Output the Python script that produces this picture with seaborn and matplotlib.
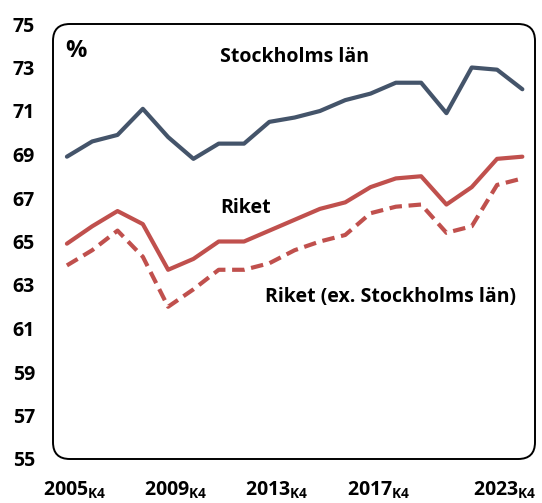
import matplotlib
matplotlib.use("Agg")
import matplotlib.pyplot as plt
from matplotlib.patches import FancyBboxPatch
import matplotlib.transforms as mtransforms
import seaborn as sns
import pandas as pd

# ---- data ----
quarters = [f"{y}K4" for y in range(2005, 2024)]
stockholm = [68.9, 69.6, 69.9, 71.1, 69.8, 68.8, 69.5, 69.5, 70.5, 70.7,
             71.0, 71.5, 71.8, 72.3, 72.3, 70.9, 73.0, 72.9, 72.0]
riket = [64.9, 65.7, 66.4, 65.8, 63.7, 64.2, 65.0, 65.0, 65.5, 66.0,
         66.5, 66.8, 67.5, 67.9, 68.0, 66.7, 67.5, 68.8, 68.9]
riket_ex = [63.9, 64.6, 65.5, 64.3, 62.0, 62.8, 63.7, 63.7, 64.0, 64.6,
            65.0, 65.3, 66.3, 66.6, 66.7, 65.4, 65.7, 67.6, 67.9]
tick_idx = [0, 4, 8, 12, 17]
tick_years = ["2005", "2009", "2013", "2017", "2023"]
y_ticks = list(range(55, 76, 2))

FONT = 'Open Sans'
sns.set_theme(style="white")
plt.rcParams['font.family'] = [FONT, 'DejaVu Sans']
plt.rcParams['font.weight'] = 'bold'
plt.rcParams['text.color'] = 'black'
plt.rcParams['mathtext.fontset'] = 'custom'
plt.rcParams['mathtext.rm'] = f'{FONT}:bold'
plt.rcParams['mathtext.it'] = f'{FONT}:bold'
plt.rcParams['mathtext.bf'] = f'{FONT}:bold'

df = pd.DataFrame({"x": range(len(quarters)), "sthlm": stockholm,
                   "riket": riket, "riket_ex": riket_ex})

fig = plt.figure(figsize=(5.42, 5.03), dpi=100)
ax = fig.add_axes([53/542, 1-459/503, (535-53)/542, (459-24)/503])

blue = "#44546A"
red = "#C0504D"
lw = 3.0
sns.lineplot(data=df, x="x", y="sthlm", ax=ax, color=blue, linewidth=lw)
sns.lineplot(data=df, x="x", y="riket", ax=ax, color=red, linewidth=lw)
sns.lineplot(data=df, x="x", y="riket_ex", ax=ax, color=red, linewidth=lw)
ax.lines[-1].set_dashes((3.0, 1.6))

ax.set_xlim(-0.55, 18.5)
ax.set_ylim(55, 75)
ax.set_yticks(y_ticks)
ax.set_yticklabels([str(v) for v in y_ticks], fontsize=14, fontweight='bold')
ax.set_xticks(tick_idx)
ax.set_xticklabels([f"{y}" + r"$_{\mathrm{K4}}$" for y in tick_years],
                   fontsize=14, fontweight='bold')
ax.tick_params(axis='y', length=0, pad=13, colors='black')
ax.tick_params(axis='x', length=0, pad=15, colors='black')
offset = mtransforms.ScaledTranslation(-24/100, 0, fig.dpi_scale_trans)
for lbl in ax.get_xticklabels():
    lbl.set_horizontalalignment('left')
    lbl.set_transform(lbl.get_transform() + offset)

ax.set_xlabel("")
ax.set_ylabel("")
for s in ax.spines.values():
    s.set_visible(False)

box = FancyBboxPatch((0, 0), 1, 1, boxstyle="round,pad=0,rounding_size=0.035",
                     transform=ax.transAxes, fill=False, edgecolor="black",
                     linewidth=1.4, clip_on=False, mutation_aspect=1.1)
ax.add_patch(box)

ax.text(0.025, 0.965, "%", transform=ax.transAxes, fontsize=17,
        fontweight='bold', va='top', ha='left', color='black')
ax.text(0.50, 0.924, "Stockholms län", transform=ax.transAxes, fontsize=14,
        fontweight='bold', ha='center', va='center', color='black')
ax.text(0.40, 0.577, "Riket", transform=ax.transAxes, fontsize=14,
        fontweight='bold', ha='center', va='center', color='black')
ax.text(0.70, 0.372, "Riket (ex. Stockholms län)", transform=ax.transAxes,
        fontsize=14, fontweight='bold', ha='center', va='center', color='black')

fig.savefig("out.png", dpi=100)
